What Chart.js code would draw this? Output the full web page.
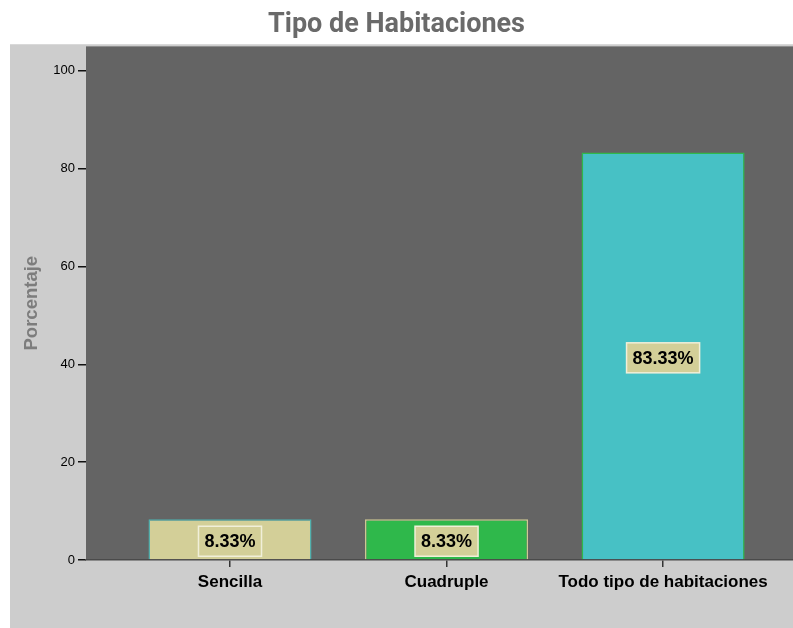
<!DOCTYPE html>
<html>
<head>
<meta charset="utf-8">
<script src="https://cdn.jsdelivr.net/npm/chart.js@4"></script>
<style>
  html, body { margin: 0; padding: 0; background: #fff; overflow: hidden; }
  #wrap { width: 793px; height: 628px; position: relative; }
</style>
</head>
<body>
<div id="wrap"><canvas id="tipoChart" width="793" height="628"></canvas></div>
<script>
// data
const categories = ["Sencilla", "Cuadruple", "Todo tipo de habitaciones"];
const percentages = [8.33, 8.33, 83.33];
const yTicks = [0, 20, 40, 60, 80, 100];

const fillColors = ["#d3cf98", "#2fb84b", "#47c1c5"];
const edgeColors = ["#4fb0ae", "#cfc894", "#2fb84b"];

// backgrounds: white page, light grey panel, dark plot area
const panelBg = {
  id: "panelBg",
  beforeDraw(chart) {
    const ctx = chart.ctx;
    const a = chart.chartArea;
    ctx.save();
    ctx.fillStyle = "#ffffff";
    ctx.fillRect(0, 0, chart.width, chart.height);
    ctx.fillStyle = "#cdcdcd";
    ctx.fillRect(10, 45, chart.width - 10, chart.height - 45);
    ctx.fillStyle = "#d9d9d9";
    ctx.fillRect(10, 44, chart.width - 10, 1);
    ctx.fillStyle = "#646464";
    ctx.fillRect(a.left, a.top, a.right - a.left, a.bottom - a.top);
    ctx.restore();
  }
};

// percentage labels in khaki boxes in the middle of each bar
const barLabels = {
  id: "barLabels",
  afterDatasetsDraw(chart) {
    const ctx = chart.ctx;
    const meta = chart.getDatasetMeta(0);
    ctx.save();
    ctx.font = "bold 18px 'Liberation Sans', Arial, sans-serif";
    ctx.textAlign = "center";
    ctx.textBaseline = "middle";
    meta.data.forEach((bar, i) => {
      const txt = percentages[i].toFixed(2) + "%";
      const cx = bar.x;
      const cy = (bar.y + bar.base) / 2 + 2;
      const w = ctx.measureText(txt).width + 12;
      const h = 30;
      ctx.fillStyle = "#d3cf98";
      ctx.fillRect(cx - w / 2, cy - h / 2, w, h);
      ctx.strokeStyle = "#f1efd9";
      ctx.lineWidth = 1.5;
      ctx.strokeRect(cx - w / 2, cy - h / 2, w, h);
      ctx.fillStyle = "#000";
      ctx.fillText(txt, cx, cy + 1);
    });
    ctx.restore();
  }
};

const ctx = document.getElementById("tipoChart").getContext("2d");
new Chart(ctx, {
  type: "bar",
  data: {
    datasets: [{
      data: percentages.map((v, i) => ({ x: i, y: v })),
      backgroundColor: fillColors,
      borderColor: edgeColors,
      borderWidth: 1.5,
      categoryPercentage: 1,
      barPercentage: 0.753
    }]
  },
  options: {
    responsive: false,
    animation: false,
    layout: { padding: { left: 0, right: 0, top: 0, bottom: 0 } },
    plugins: {
      legend: { display: false },
      tooltip: { enabled: false },
      title: {
        display: true,
        text: "Tipo de Habitaciones",
        color: "#6a6a6a",
        font: { family: "'Liberation Sans Narrow', 'Roboto', sans-serif", size: 27, weight: "bold" },
        padding: { top: 9, bottom: 5 }
      }
    },
    scales: {
      x: {
        type: "linear",
        offset: false,
        min: -0.665,
        max: 2.6,
        afterBuildTicks: s => { s.ticks = categories.map((c, i) => ({ value: i })); },
        afterFit: s => { s.height = 68; },
        ticks: {
          callback: v => categories[v],
          color: "#000",
          font: { family: "'Liberation Sans', Arial, sans-serif", size: 17, weight: "bold" },
          padding: 5,
          maxRotation: 0,
          autoSkip: false
        },
        grid: { offset: false, drawOnChartArea: false, drawTicks: true, tickLength: 7, color: "#333", lineWidth: 1.5 },
        border: { display: true, color: "#4a4a4a", width: 1.5 }
      },
      y: {
        min: 0,
        max: 105,
        afterBuildTicks: s => { s.ticks = yTicks.map(v => ({ value: v })); },
        afterFit: s => { s.width = 86; },
        ticks: {
          color: "#000",
          font: { family: "'Liberation Sans', Arial, sans-serif", size: 13 },
          padding: 3
        },
        grid: { drawOnChartArea: false, drawTicks: true, tickLength: 8, color: "#111", lineWidth: 1.5 },
        border: { display: false },
        title: {
          display: true,
          text: "Porcentaje",
          color: "#7d7d7d",
          font: { family: "'Liberation Sans', Arial, sans-serif", size: 18.5, weight: "bold" },
          padding: { top: 21, bottom: 0 }
        }
      }
    }
  },
  plugins: [panelBg, barLabels]
});
</script>
</body>
</html>
